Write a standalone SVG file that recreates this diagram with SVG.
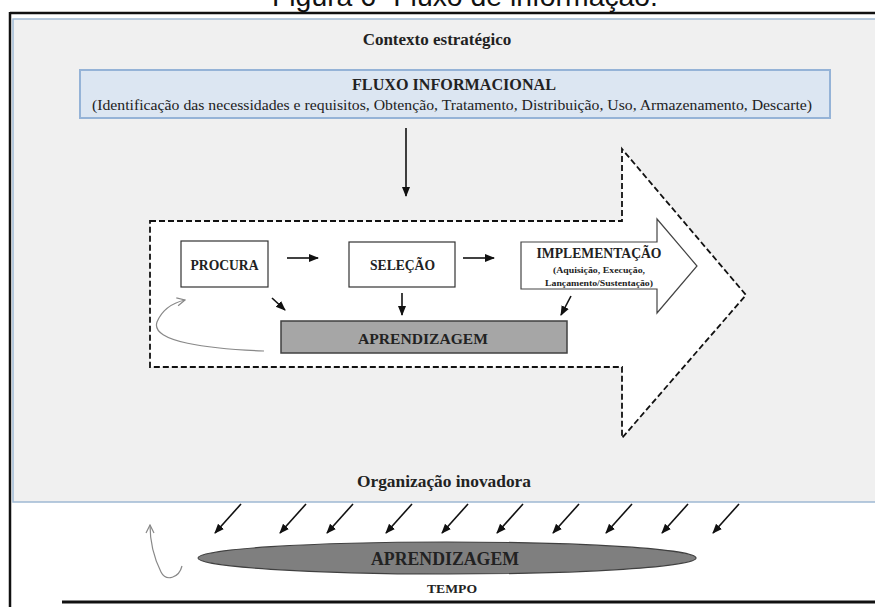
<svg xmlns="http://www.w3.org/2000/svg" width="875" height="607" viewBox="0 0 875 607">
<style>
.serif{font-family:"Liberation Serif","Times New Roman",serif;fill:#222;}
.b{font-weight:bold;}
.box{fill:#fff;stroke:#333;stroke-width:1.2;}
.ar{stroke:#111;stroke-width:1.6;fill:none;marker-end:url(#ah);}
.cv{stroke:#888;stroke-width:1.2;fill:none;marker-end:url(#oh);}
</style>
<defs>
<marker id="ah" markerUnits="userSpaceOnUse" markerWidth="10" markerHeight="10" viewBox="0 0 10 10" refX="9" refY="5" orient="auto">
<path d="M0,1 L10,5 L0,9 Z" fill="#111"/>
</marker>
<marker id="oh" markerUnits="userSpaceOnUse" markerWidth="10" markerHeight="10" viewBox="0 0 10 10" refX="9" refY="5" orient="auto">
<path d="M1,1 L9,5 L1,9" fill="none" stroke="#888" stroke-width="1.2"/>
</marker>
</defs>
<rect width="875" height="607" fill="#fff"/>
<text x="272" y="6" font-family="Liberation Sans, Arial, sans-serif" font-size="28" fill="#111" textLength="386" lengthAdjust="spacingAndGlyphs">Figura 6- Fluxo de informação.</text>
<g id="frame">
<line x1="10" y1="13" x2="875" y2="13" stroke="#111" stroke-width="2.5"/>
<line x1="10" y1="12" x2="10" y2="607" stroke="#111" stroke-width="2.5"/>
<line x1="62" y1="602" x2="875" y2="602" stroke="#111" stroke-width="3"/>
</g>
<g id="panel">
<rect x="13" y="19" width="870" height="483" fill="#f0f0f0" stroke="#9fb9d3" stroke-width="1.5"/>
<text class="serif b" x="437" y="45" font-size="17" text-anchor="middle">Contexto estratégico</text>
<text class="serif b" x="444" y="487" font-size="17" text-anchor="middle" textLength="174" lengthAdjust="spacingAndGlyphs">Organização inovadora</text>
</g>
<g id="fluxo">
<rect x="80" y="70" width="750" height="48" fill="#dce6f2" stroke="#95b3d7" stroke-width="2"/>
<text class="serif b" x="454" y="90" font-size="16" text-anchor="middle" textLength="204" lengthAdjust="spacingAndGlyphs">FLUXO INFORMACIONAL</text>
<text class="serif" x="452" y="110" font-size="15" text-anchor="middle" textLength="720" lengthAdjust="spacingAndGlyphs">(Identificação das necessidades e requisitos, Obtenção, Tratamento, Distribuição, Uso, Armazenamento, Descarte)</text>
</g>
<g id="big-arrow">
<path d="M150,221 L622,221 L622,149 L746,295 L622,438 L622,367 L150,367 Z" fill="#fff" stroke="#111" stroke-width="1.8" stroke-dasharray="6,3"/>
</g>
<g id="procura">
<rect class="box" x="181" y="241" width="87" height="46"/>
<text class="serif b" x="224.5" y="270" font-size="14" text-anchor="middle" textLength="68" lengthAdjust="spacingAndGlyphs">PROCURA</text>
</g>
<g id="selecao">
<rect class="box" x="349" y="242" width="106" height="45"/>
<text class="serif b" x="402.5" y="270" font-size="14" text-anchor="middle" textLength="65" lengthAdjust="spacingAndGlyphs">SELEÇÃO</text>
</g>
<g id="implementacao">
<path d="M521,242 L657,242 L657,219 L697,266 L657,313 L657,289 L521,289 Z" fill="#fff" stroke="#444" stroke-width="1.2"/>
<text class="serif b" x="599" y="258" font-size="14" text-anchor="middle" textLength="125" lengthAdjust="spacingAndGlyphs">IMPLEMENTAÇÃO</text>
<text class="serif b" x="599" y="273" font-size="9" text-anchor="middle" textLength="92" lengthAdjust="spacingAndGlyphs">(Aquisição, Execução,</text>
<text class="serif b" x="599" y="286" font-size="9" text-anchor="middle" textLength="108" lengthAdjust="spacingAndGlyphs">Lançamento/Sustentação)</text>
</g>
<g id="aprendizagem-box">
<rect x="281" y="321" width="286" height="32" fill="#a6a6a6" stroke="#404040" stroke-width="1.5"/>
<text class="serif b" x="423" y="344" font-size="15" text-anchor="middle" textLength="130" lengthAdjust="spacingAndGlyphs">APRENDIZAGEM</text>
</g>
<g id="aprendizagem-ellipse">
<ellipse cx="447" cy="558" rx="249" ry="16" fill="#7f7f7f" stroke="#404040" stroke-width="1.2"/>
<text class="serif b" x="445" y="565" font-size="18" text-anchor="middle" textLength="148" lengthAdjust="spacingAndGlyphs">APRENDIZAGEM</text>
</g>
<g id="tempo">
<text class="serif b" x="452" y="593" font-size="12" text-anchor="middle" textLength="50" lengthAdjust="spacingAndGlyphs">TEMPO</text>
</g>
<g id="connectors">
<line class="ar" x1="406" y1="128" x2="406" y2="196"/>
<line class="ar" x1="287" y1="258" x2="318" y2="258"/>
<line class="ar" x1="463" y1="258" x2="494" y2="258"/>
<line class="ar" x1="272" y1="298" x2="285" y2="310"/>
<line class="ar" x1="402" y1="293" x2="402" y2="315"/>
<line class="ar" x1="571" y1="296" x2="561" y2="315"/>
<path class="cv" d="M264,351 C210,349 150,342 157,322 C162,310 172,303 185,300"/>
<path class="cv" d="M182,566 C179,578 166,582 161,572 C155,560 150,545 150,525"/>
<line class="ar" x1="241" y1="504" x2="215" y2="533"/>
<line class="ar" x1="306" y1="504" x2="280" y2="533"/>
<line class="ar" x1="353" y1="504" x2="327" y2="533"/>
<line class="ar" x1="412" y1="504" x2="386" y2="533"/>
<line class="ar" x1="468" y1="504" x2="442" y2="533"/>
<line class="ar" x1="523" y1="504" x2="497" y2="533"/>
<line class="ar" x1="579" y1="504" x2="553" y2="533"/>
<line class="ar" x1="632" y1="504" x2="606" y2="533"/>
<line class="ar" x1="688" y1="504" x2="662" y2="533"/>
<line class="ar" x1="739" y1="504" x2="713" y2="533"/>
</g>
</svg>
